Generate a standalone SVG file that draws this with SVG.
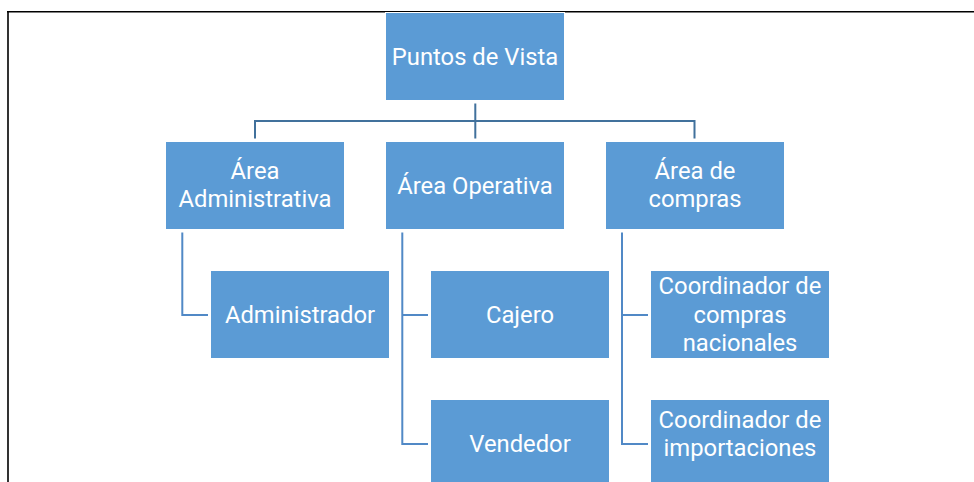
<svg xmlns="http://www.w3.org/2000/svg" width="974" height="482" viewBox="0 0 974 482">
<style>
.box{fill:#5B9BD5;stroke:#FFFFFF;stroke-width:1}
.t{font-family:Roboto,"Open Sans","Liberation Sans",sans-serif;font-size:23.8px;fill:#FFFFFF;text-anchor:middle}
.c1{fill:none;stroke:#41719C;stroke-width:2}
.c2{fill:none;stroke:#5189C6;stroke-width:2}
</style>
<rect x="0" y="0" width="974" height="482" fill="#FFFFFF"/>
<g id="frame">
<path d="M7 11.7H974M8 11V482" fill="none" stroke="#000000" stroke-width="1.6"/>
</g>
<g id="connectors">
<path class="c1" d="M475.3 103.5V138.5M255 138.5V121H694.5V138.5"/>
<path class="c2" d="M182.3 232.5V315H208"/>
<path class="c2" d="M402.3 232.5V444H428M402.3 315H428"/>
<path class="c2" d="M622 232.5V444H648M622 315H648"/>
</g>
<g id="n-root">
<rect class="box" x="385.5" y="12.5" width="179" height="88"/>
<text class="t" x="475" y="64.5">Puntos de Vista</text>
</g>
<g id="n-admin">
<rect class="box" x="165.5" y="141.5" width="179" height="88"/>
<text class="t" x="255" y="178.5"><tspan x="255">Área</tspan><tspan x="255" dy="28.8">Administrativa</tspan></text>
</g>
<g id="n-oper">
<rect class="box" x="385.5" y="141.5" width="179" height="88"/>
<text class="t" x="475" y="194">Área Operativa</text>
</g>
<g id="n-compras">
<rect class="box" x="605.5" y="141.5" width="179" height="88"/>
<text class="t" x="695" y="179"><tspan x="695">Área de</tspan><tspan x="695" dy="28">compras</tspan></text>
</g>
<g id="n-administrador">
<rect class="box" x="210.5" y="270.5" width="179" height="88"/>
<text class="t" x="300" y="322.7">Administrador</text>
</g>
<g id="n-cajero">
<rect class="box" x="430.5" y="270.5" width="179" height="88"/>
<text class="t" x="520" y="322.7">Cajero</text>
</g>
<g id="n-vendedor">
<rect class="box" x="430.5" y="399.5" width="179" height="88"/>
<text class="t" x="520" y="451.7">Vendedor</text>
</g>
<g id="n-nacionales">
<rect class="box" x="650.5" y="270.5" width="179" height="88"/>
<text class="t" x="740" y="294.3"><tspan x="740">Coordinador de</tspan><tspan x="740" dy="28.4">compras</tspan><tspan x="740" dy="28.3">nacionales</tspan></text>
</g>
<g id="n-importaciones">
<rect class="box" x="650.5" y="399.5" width="179" height="88"/>
<text class="t" x="740" y="427.7"><tspan x="740">Coordinador de</tspan><tspan x="740" dy="28.3">importaciones</tspan></text>
</g>
</svg>
